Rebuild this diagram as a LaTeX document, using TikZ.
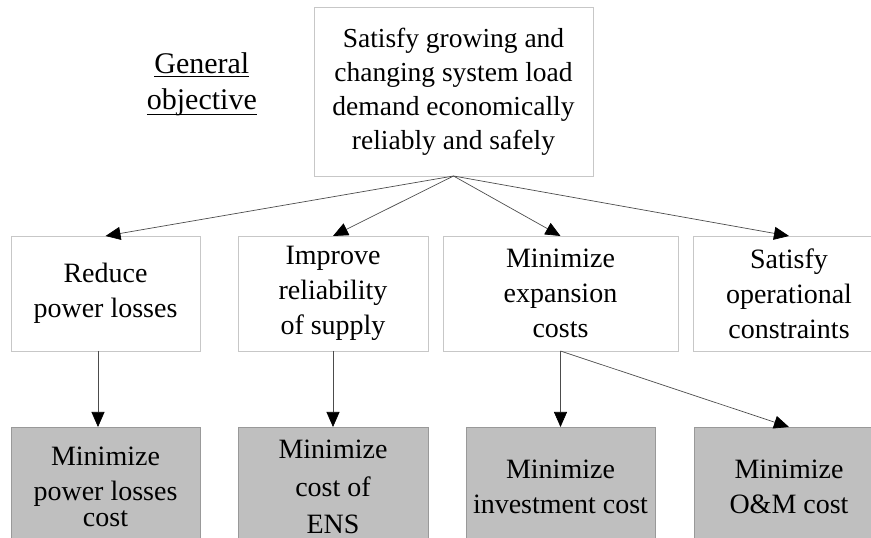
\documentclass[tikz,border=0pt]{standalone}
\usepackage{fontspec}
\setmainfont{Liberation Serif}
\usetikzlibrary{positioning}
\usetikzlibrary{arrows.meta}

% underlined word, rule set #1 below the baseline
\newcommand{\ulword}[2]{\setbox0\hbox{#2}\leavevmode\rlap{\rule[-#1]{\wd0}{1.8pt}}\box0}

\tikzset{
  goalbox/.style={draw=black!22, fill=white, line width=0.8pt, align=center,
    inner sep=2pt, outer sep=0pt, font=\fontsize{28}{35}\selectfont, minimum height=115pt},
  costbox/.style={draw=black!40, fill=black!25, line width=0.8pt, align=center,
    inner sep=2pt, outer sep=0pt, font=\fontsize{28}{35}\selectfont, minimum height=120pt},
  link/.style={draw=black!70, line width=0.7pt, -{Triangle[length=15pt,width=13pt,black]}},
}

\begin{document}
\begin{tikzpicture}
  \useasboundingbox (0,0) rectangle (871pt,538pt);
  \node(top) [draw=black!22, line width=0.8pt, align=center, outer sep=0pt,
    font=\fontsize{27.5}{34}\selectfont, minimum width=279pt, minimum height=168.5pt]
    at (453.5pt,446.25pt) {Satisfy growing and\\changing system load\\demand economically\\reliably and safely};
  \node(general) [left=57pt of top, yshift=7pt, inner sep=0pt, align=center,
    font=\fontsize{30}{36}\selectfont]
    {\ulword{3.5pt}{General}\\\ulword{5.5pt}{objective}};
  \node(reduce) [goalbox, minimum width=189pt] at (105.5pt,244.5pt) {Reduce\\power losses};
  \node(improve) [goalbox, minimum width=190pt, right=38pt of reduce] {Improve\\reliability\\of supply};
  \node(expand) [goalbox, minimum width=235pt, right=15pt of improve] {Minimize\\expansion\\costs};
  \node(operate) [goalbox, minimum width=192pt, right=15pt of expand] {Satisfy\\operational\\constraints};
  \node(losscost) [costbox, minimum width=189pt, below=76pt of reduce] {Minimize\\power losses\\[-9pt]cost};
  \node(enscost) [costbox, minimum width=190pt, below=76pt of improve] {Minimize\\[3pt]cost of\\[2pt]ENS};
  \node(invcost) [costbox, minimum width=189pt, below=76pt of expand] {Minimize\\investment cost};
  \node(omcost) [costbox, minimum width=190pt, below=76pt of operate] {Minimize\\O\&M cost};
  \draw[link] (top.south) -- (reduce.north);
  \draw[link] (top.south) -- (improve.north);
  \draw[link] (top.south) -- (expand.north);
  \draw[link] (top.south) -- (operate.north);
  \draw[link] ([xshift=-7.5pt]reduce.south) -- ([xshift=-7.5pt]losscost.north);
  \draw[link] (improve.south) -- (enscost.north);
  \draw[link] (expand.south) -- (expand.south |- invcost.north);
  \draw[link] (expand.south) -- (omcost.north);
\end{tikzpicture}
\end{document}
